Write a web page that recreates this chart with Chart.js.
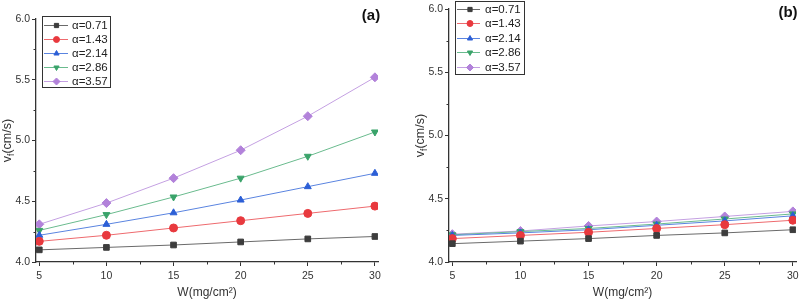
<!DOCTYPE html>
<html>
<head>
<meta charset="utf-8">
<script src="https://cdn.jsdelivr.net/npm/chart.js@4.4.1/dist/chart.umd.min.js"></script>
<style>
  html, body { margin: 0; padding: 0; background: #fff; overflow: hidden; }
  #wrap { position: relative; width: 799px; height: 300px; overflow: hidden; }
  #chartA { position: absolute; left: 0; top: 0; }
  #chartB { position: absolute; left: 400px; top: 0; }
</style>
</head>
<body>
<div id="wrap">
  <canvas id="chartA" width="400" height="300"></canvas>
  <canvas id="chartB" width="424" height="300"></canvas>
</div>
<script>
var wValues = [5, 10, 15, 20, 25, 30];
var xTicks = [5, 10, 15, 20, 25, 30];
var alphaLabels = ["α=0.71", "α=1.43", "α=2.14", "α=2.86", "α=3.57"];

// panel (a)
var a071 = [4.10, 4.12, 4.14, 4.165, 4.19, 4.21];
var a143 = [4.17, 4.22, 4.28, 4.34, 4.40, 4.46];
var a214 = [4.22, 4.31, 4.405, 4.51, 4.62, 4.73];
var a286 = [4.26, 4.39, 4.535, 4.69, 4.87, 5.07];
var a357 = [4.31, 4.485, 4.69, 4.92, 5.20, 5.52];

// panel (b)
var b071 = [4.145, 4.165, 4.185, 4.21, 4.23, 4.255];
var b143 = [4.185, 4.21, 4.235, 4.265, 4.295, 4.33];
var b214 = [4.21, 4.23, 4.255, 4.29, 4.325, 4.365];
var b286 = [4.215, 4.24, 4.265, 4.30, 4.34, 4.38];
var b357 = [4.22, 4.245, 4.285, 4.32, 4.36, 4.40];

const colors = ["#3d3d3d", "#e8393e", "#2c5fd6", "#3aa36a", "#b282da"];
const lineColors = ["#6a6a6a", "#ee6a6e", "#5a84e0", "#6abb8e", "#c4a0e2"];
const styles = [
  { pointStyle: "rect", rotation: 0 },
  { pointStyle: "circle", rotation: 0 },
  { pointStyle: "triangle", rotation: 0 },
  { pointStyle: "triangle", rotation: 180 },
  { pointStyle: "rectRot", rotation: 0 },
];
const FONT = "'Liberation Sans', Arial, sans-serif";
const AXIS = "#333333";

function makeDatasets(series) {
  return series.map((vals, i) => ({
    label: alphaLabels[i],
    data: vals.map((v, j) => ({ x: wValues[j], y: v })),
    borderColor: lineColors[i],
    backgroundColor: colors[i],
    pointBorderColor: colors[i],
    borderWidth: 1,
    pointStyle: styles[i].pointStyle,
    rotation: styles[i].rotation,
    pointRadius: styles[i].pointStyle === "rectRot" ? 4.5 : 4,
    pointBorderWidth: 1,
    tension: 0,
  }));
}

// legend box drawn inside the plot, Origin style
const legendBox = {
  id: "legendBox",
  afterDraw(chart, args, o) {
    const ctx = chart.ctx;
    ctx.save();
    ctx.strokeStyle = AXIS;
    ctx.lineWidth = 1;
    ctx.strokeRect(o.x + 0.5, o.y + 0.5, o.w, o.h);
    ctx.font = "11.5px " + FONT;
    ctx.textBaseline = "middle";
    chart.data.datasets.forEach((ds, i) => {
      const cy = Math.round(o.y + o.first + i * o.step) + 0.5;
      ctx.strokeStyle = ds.borderColor;
      ctx.lineWidth = 1;
      ctx.beginPath();
      ctx.moveTo(o.x + o.lineFrom, cy);
      ctx.lineTo(o.x + o.lineTo, cy);
      ctx.stroke();
      ctx.strokeStyle = ds.pointBorderColor;
      ctx.fillStyle = ds.backgroundColor;
      Chart.helpers.drawPoint(ctx, {
        pointStyle: ds.pointStyle,
        rotation: ds.rotation,
        radius: ds.pointStyle === "rectRot" ? 3.5 : 3,
        borderWidth: 1,
      }, o.x + o.marker, cy);
      ctx.fillStyle = "#222";
      ctx.fillText(ds.label, o.x + o.text, cy);
    });
    ctx.restore();
  },
};

// minor ticks, panel tag and the y title with subscript
const extras = {
  id: "extras",
  afterDraw(chart, args, o) {
    const ctx = chart.ctx;
    const xs = chart.scales.x, ys = chart.scales.y;
    const area = chart.chartArea;
    ctx.save();
    ctx.strokeStyle = AXIS;
    ctx.lineWidth = 1;
    ctx.beginPath();
    for (let v = 7.5; v < 30; v += 5) {
      const px = Math.round(xs.getPixelForValue(v)) + 0.5;
      ctx.moveTo(px, area.bottom);
      ctx.lineTo(px, area.bottom + 2.5);
    }
    for (let v = 4.25; v < 6; v += 0.5) {
      const py = Math.round(ys.getPixelForValue(v)) + 0.5;
      ctx.moveTo(area.left, py);
      ctx.lineTo(area.left - 2.5, py);
    }
    ctx.stroke();

    ctx.fillStyle = "#111";
    ctx.font = "bold 15px " + FONT;
    ctx.textAlign = "center";
    ctx.textBaseline = "middle";
    ctx.fillText(o.tag, o.tagX, o.tagY);

    ctx.translate(o.titleX, (area.top + area.bottom) / 2);
    ctx.rotate(-Math.PI / 2);
    ctx.fillStyle = AXIS;
    ctx.textAlign = "left";
    ctx.font = "12.5px " + FONT;
    const vW = ctx.measureText("v").width;
    const rW = ctx.measureText("(cm/s)").width;
    ctx.font = "8.5px " + FONT;
    const fW = ctx.measureText("f").width;
    const x0 = -(vW + fW + rW) / 2;
    ctx.font = "12.5px " + FONT;
    ctx.fillText("v", x0, 0);
    ctx.font = "8.5px " + FONT;
    ctx.fillText("f", x0 + vW, 4);
    ctx.font = "12.5px " + FONT;
    ctx.fillText("(cm/s)", x0 + vW + fW, 0);
    ctx.restore();
  },
};

function makeConfig(series, yWidth, pad, legendOpts, extraOpts) {
  return {
    type: "line",
    data: { datasets: makeDatasets(series) },
    options: {
      responsive: false,
      animation: false,
      devicePixelRatio: 1,
      layout: { padding: pad },
      plugins: {
        legend: { display: false },
        tooltip: { enabled: false },
        legendBox: legendOpts,
        extras: extraOpts,
      },
      scales: {
        x: {
          type: "linear",
          min: 4.755,
          max: 30.23,
          afterBuildTicks: (scale) => {
            scale.ticks = xTicks.map((v) => ({ value: v }));
          },
          afterFit: (scale) => { scale.height = 38; },
          grid: { drawOnChartArea: false, drawTicks: true, tickLength: 4, tickColor: AXIS },
          border: { display: true, color: AXIS, width: 1.3 },
          ticks: { color: AXIS, font: { size: 10.5, family: FONT }, padding: 4, maxRotation: 0 },
          title: {
            display: true,
            text: "W(mg/cm²)",
            color: AXIS,
            font: { size: 12, family: FONT },
            padding: { top: 0, bottom: 0 },
          },
        },
        y: {
          min: 4.0,
          max: 6.0,
          afterFit: (scale) => { scale.width = yWidth; },
          grid: { drawOnChartArea: false, drawTicks: true, tickLength: 4, tickColor: AXIS },
          border: { display: true, color: AXIS, width: 1.3 },
          ticks: {
            stepSize: 0.5,
            color: AXIS,
            font: { size: 10.5, family: FONT },
            padding: 2,
            callback: (v) => v.toFixed(1),
          },
        },
      },
    },
    plugins: [legendBox, extras],
  };
}

new Chart(document.getElementById("chartA"), makeConfig(
  [a071, a143, a214, a286, a357], 36,
  { left: 0, right: 22, top: 19, bottom: 0 },
  { x: 42, y: 16, w: 68, h: 71, first: 9, step: 14, lineFrom: 2, lineTo: 26, marker: 14.5, text: 30 },
  { tag: "(a)", tagX: 371, tagY: 16, titleX: 8 }
));

new Chart(document.getElementById("chartB"), makeConfig(
  [b071, b143, b214, b286, b357], 49,
  { left: 0, right: 28, top: 9, bottom: 0 },
  { x: 55, y: 1, w: 69, h: 73, first: 8, step: 14.4, lineFrom: 2, lineTo: 25, marker: 15, text: 30 },
  { tag: "(b)", tagX: 388, tagY: 13, titleX: 21 }
));
</script>
</body>
</html>
